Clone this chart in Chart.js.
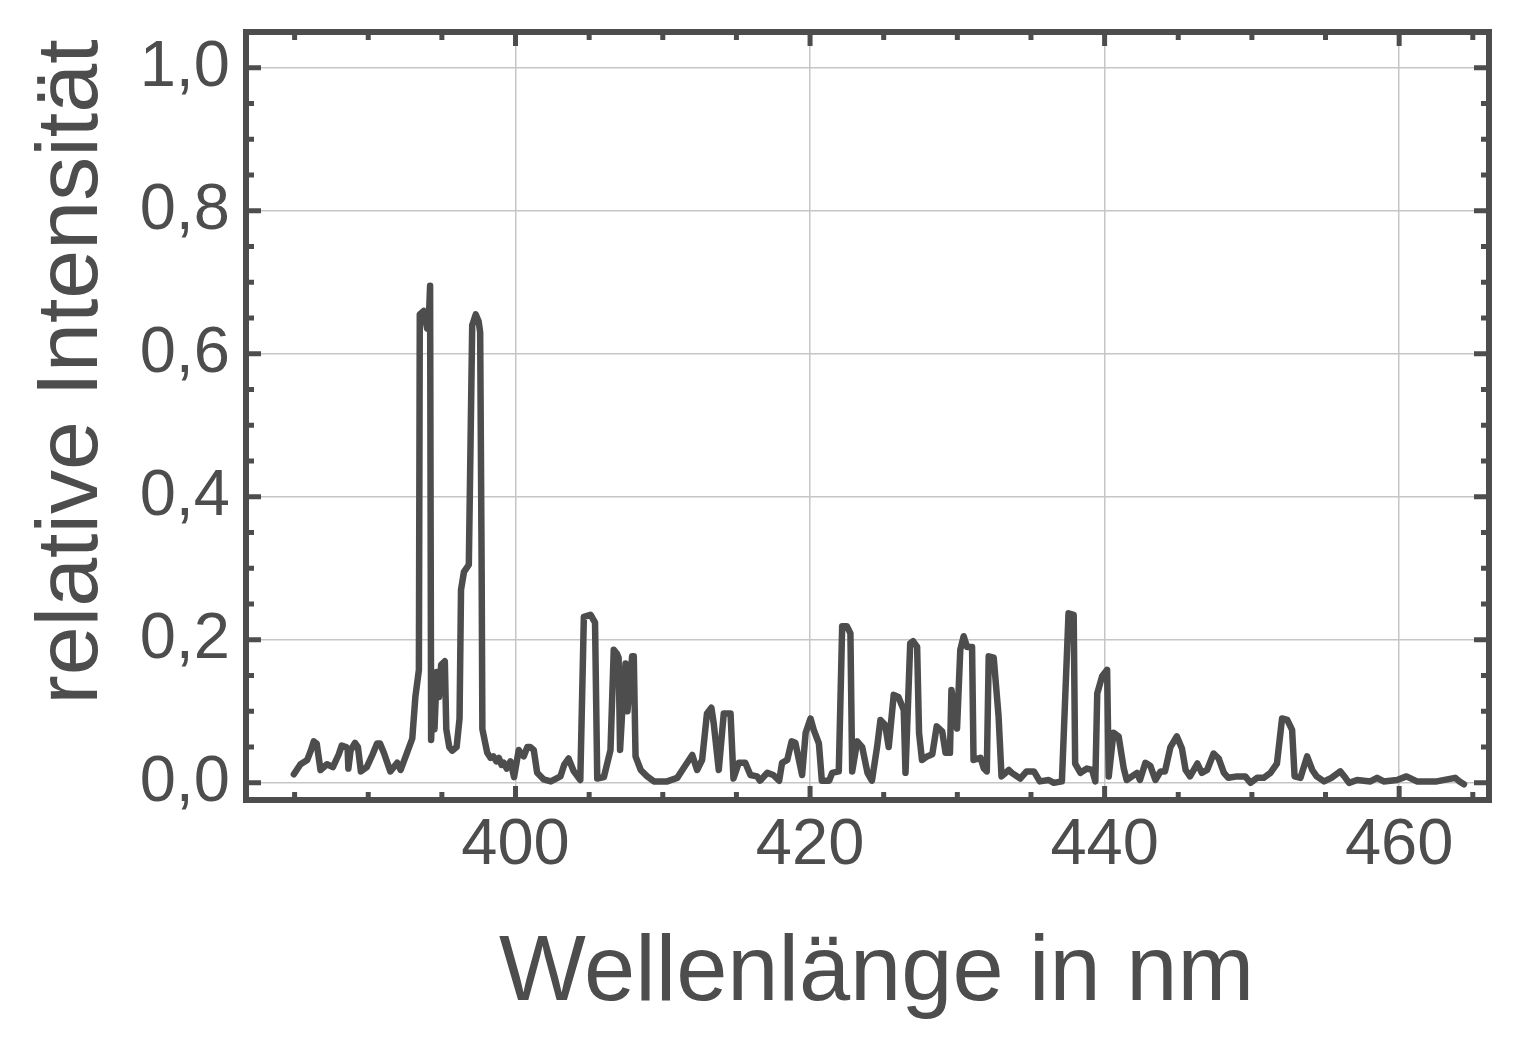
<!DOCTYPE html>
<html lang="de">
<head>
<meta charset="utf-8">
<title>Spektrum</title>
<script src="https://cdn.jsdelivr.net/npm/chart.js@4.4.1/dist/chart.umd.min.js"></script>
<style>
  html, body { margin: 0; padding: 0; background: #ffffff; }
  #wrap { width: 1517px; height: 1037px; position: relative; }
</style>
</head>
<body>
<div id="wrap"><canvas id="spectrum-chart"></canvas></div>
<script>
// --- data ---
const wavelength = [
  384.95, 385.4, 385.86, 386.1, 386.3, 386.5, 386.76, 387.2, 387.6, 388.0,
  388.2, 388.5, 388.6, 388.65, 388.8, 389.1, 389.3, 389.5, 389.9, 390.3,
  390.6, 390.8, 391.06, 391.5, 391.97, 392.2, 392.6, 392.99, 393.2, 393.44,
  393.5, 393.77, 394.0, 394.1, 394.2, 394.27, 394.4, 394.5, 394.65, 394.8,
  394.95, 395.2, 395.3, 395.5, 395.7, 396.0, 396.2, 396.3, 396.5, 396.83,
  396.95, 397.06, 397.3, 397.5, 397.6, 397.7, 397.75, 398.08, 398.3, 398.5,
  398.7, 398.87, 399.05, 399.2, 399.4, 399.66, 399.9, 400.22, 400.4, 400.56,
  400.8, 401.0, 401.24, 401.47, 401.9, 402.4, 403.05, 403.3, 403.6, 403.96,
  404.4, 404.64, 405.1, 405.4, 405.55, 406.0, 406.45, 406.67, 406.9, 407.0,
  407.1, 407.3, 407.47, 407.6, 407.92, 408.03, 408.15, 408.5, 408.94, 409.4,
  410.3, 410.98, 411.43, 412.0, 412.33, 412.67, 413.0, 413.3, 413.46, 413.8,
  414.14, 414.6, 414.8, 415.16, 415.6, 415.95, 416.4, 416.6, 417.1, 417.5,
  417.9, 418.1, 418.45, 418.75, 419.0, 419.46, 419.7, 420.03, 420.25, 420.6,
  420.8, 421.3, 421.5, 421.95, 422.18, 422.5, 422.74, 422.86, 423.2, 423.54,
  423.9, 424.2, 424.55, 424.78, 425.1, 425.34, 425.68, 426.0, 426.36, 426.48,
  426.8, 427.0, 427.27, 427.4, 427.6, 427.95, 428.3, 428.6, 428.97, 429.2,
  429.5, 429.6, 429.98, 430.2, 430.43, 430.66, 431.0, 431.1, 431.57, 431.8,
  432.0, 432.13, 432.47, 432.8, 433.0, 433.5, 433.7, 434.27, 434.7, 435.2,
  435.6, 436.2, 436.55, 437.1, 437.55, 437.9, 438.0, 438.36, 438.8, 439.15,
  439.37, 439.5, 439.83, 440.17, 440.28, 440.6, 440.95, 441.3, 441.5, 442.2,
  442.4, 442.77, 443.1, 443.45, 443.8, 444.1, 444.47, 444.9, 445.25, 445.5,
  445.8, 446.3, 446.6, 446.96, 447.4, 447.75, 448.1, 448.4, 449.0, 449.55,
  449.9, 450.35, 450.8, 451.26, 451.7, 452.05, 452.4, 452.73, 452.9, 453.3,
  453.75, 454.1, 454.4, 454.9, 455.4, 456.0, 456.35, 456.6, 457.15, 458.05,
  458.5, 458.95, 459.86, 460.5, 461.2, 462.55, 463.8, 464.1, 464.4
];
const intensity = [
  0.012, 0.026, 0.032, 0.045, 0.058, 0.055, 0.018, 0.026, 0.022, 0.040,
  0.052, 0.050, 0.048, 0.020, 0.045, 0.056, 0.050, 0.016, 0.022, 0.040,
  0.055, 0.055, 0.042, 0.016, 0.028, 0.018, 0.040, 0.062, 0.120, 0.158,
  0.655, 0.660, 0.635, 0.640, 0.695, 0.060, 0.140, 0.075, 0.155, 0.120,
  0.165, 0.170, 0.075, 0.050, 0.045, 0.050, 0.090, 0.270, 0.295, 0.305,
  0.480, 0.640, 0.655, 0.645, 0.630, 0.300, 0.075, 0.042, 0.035, 0.037,
  0.030, 0.035, 0.025, 0.028, 0.020, 0.030, 0.008, 0.046, 0.040, 0.037,
  0.050, 0.050, 0.046, 0.014, 0.005, 0.002, 0.009, 0.025, 0.034, 0.016,
  0.004, 0.232, 0.235, 0.224, 0.006, 0.008, 0.046, 0.186, 0.180, 0.175,
  0.046, 0.120, 0.167, 0.100, 0.177, 0.177, 0.037, 0.018, 0.009, 0.002,
  0.002, 0.007, 0.021, 0.039, 0.018, 0.032, 0.097, 0.105, 0.083, 0.018,
  0.097, 0.097, 0.006, 0.028, 0.028, 0.011, 0.009, 0.003, 0.014, 0.011,
  0.003, 0.028, 0.032, 0.058, 0.056, 0.011, 0.070, 0.090, 0.074, 0.055,
  0.003, 0.003, 0.014, 0.016, 0.219, 0.219, 0.209, 0.016, 0.058, 0.050,
  0.014, 0.003, 0.050, 0.088, 0.081, 0.050, 0.123, 0.120, 0.102, 0.014,
  0.195, 0.198, 0.190, 0.070, 0.032, 0.037, 0.040, 0.079, 0.072, 0.042,
  0.042, 0.130, 0.076, 0.186, 0.205, 0.190, 0.190, 0.032, 0.035, 0.020,
  0.016, 0.177, 0.175, 0.093, 0.009, 0.018, 0.014, 0.006, 0.016, 0.016,
  0.002, 0.004, 0.000, 0.002, 0.237, 0.235, 0.027, 0.014, 0.020, 0.018,
  0.002, 0.125, 0.149, 0.158, 0.009, 0.070, 0.065, 0.020, 0.004, 0.014,
  0.004, 0.028, 0.024, 0.004, 0.016, 0.016, 0.050, 0.065, 0.048, 0.018,
  0.009, 0.027, 0.014, 0.018, 0.041, 0.034, 0.014, 0.007, 0.009, 0.009,
  0.000, 0.007, 0.007, 0.014, 0.027, 0.090, 0.088, 0.074, 0.009, 0.007,
  0.037, 0.018, 0.009, 0.002, 0.007, 0.016, 0.007, 0.000, 0.004, 0.002,
  0.007, 0.002, 0.004, 0.009, 0.002, 0.002, 0.007, 0.002, -0.002
];

const xMajorTicks = [400, 420, 440, 460];
const xMinorTicks = [385, 390, 395, 405, 410, 415, 425, 430, 435, 445, 450, 455, 465];
const yMajorTicks = [0.0, 0.2, 0.4, 0.6, 0.8, 1.0];
const yMinorTicks = [0.05, 0.1, 0.15, 0.25, 0.3, 0.35, 0.45, 0.5, 0.55, 0.65, 0.7, 0.75, 0.85, 0.9, 0.95];

const xTitle = 'Wellenlänge in nm';
const yTitle = 'relative Intensität';

const ink = '#4d4d4d';
const fontFamily = '"Liberation Sans", Arial, sans-serif';

// frame, inward tick marks and the two axis titles
const framePlugin = {
    id: 'frame',
    afterDatasetsDraw(chart) {
        const ctx = chart.ctx;
        const a = chart.chartArea;
        const xs = chart.scales.x;
        const ys = chart.scales.y;
        ctx.save();
        ctx.strokeStyle = ink;
        ctx.lineCap = 'butt';

        ctx.lineWidth = 5;
        const tick = (list, len) => {
            list.forEach(v => {
                const px = xs.getPixelForValue(v);
                ctx.beginPath();
                ctx.moveTo(px, a.bottom); ctx.lineTo(px, a.bottom - len);
                ctx.moveTo(px, a.top); ctx.lineTo(px, a.top + len);
                ctx.stroke();
            });
        };
        const ytick = (list, len) => {
            list.forEach(v => {
                const py = ys.getPixelForValue(v);
                ctx.beginPath();
                ctx.moveTo(a.left, py); ctx.lineTo(a.left + len, py);
                ctx.moveTo(a.right, py); ctx.lineTo(a.right - len, py);
                ctx.stroke();
            });
        };
        tick(xMajorTicks, 14);
        tick(xMinorTicks, 8);
        ytick(yMajorTicks, 15);
        ytick(yMinorTicks, 8);

        ctx.lineWidth = 6;
        ctx.strokeRect(a.left, a.top, a.right - a.left, a.bottom - a.top);

        // axis titles
        ctx.fillStyle = ink;
        ctx.textAlign = 'center';
        ctx.textBaseline = 'alphabetic';
        ctx.font = '92px ' + fontFamily;
        ctx.fillText(xTitle, (a.left + a.right) / 2 + 9, 1000);

        ctx.translate(97, 372);
        ctx.rotate(-Math.PI / 2);
        ctx.font = '88px ' + fontFamily;
        ctx.fillText(yTitle, 0, 0);
        ctx.restore();
    }
};

const points = wavelength.map((w, i) => ({ x: w, y: intensity[i] }));

const ctx = document.getElementById('spectrum-chart').getContext('2d');
const spectrumChart = new Chart(ctx, {
    type: 'line',
    data: {
        datasets: [{
            data: points,
            borderColor: ink,
            borderWidth: 6.5,
            borderJoinStyle: 'round',
            borderCapStyle: 'round',
            pointRadius: 0,
            tension: 0,
            fill: false
        }]
    },
    options: {
        responsive: true,
        maintainAspectRatio: false,
        animation: false,
        devicePixelRatio: 1,
        layout: { padding: { top: 32, right: 28, left: 0, bottom: 0 } },
        plugins: {
            legend: { display: false },
            tooltip: { enabled: false }
        },
        scales: {
            x: {
                type: 'linear',
                min: 381.7,
                max: 466.1,
                afterBuildTicks: scale => { scale.ticks = xMajorTicks.map(v => ({ value: v })); },
                afterFit: scale => {
                    scale.height = 237;
                    scale.paddingLeft = 0;
                    scale.paddingRight = 0;
                },
                grid: { color: '#c6c6c6', lineWidth: 1.5, drawTicks: false },
                border: { display: false },
                ticks: {
                    color: ink,
                    padding: 14,
                    maxRotation: 0,
                    autoSkip: false,
                    font: { family: fontFamily, size: 65, lineHeight: 1 }
                }
            },
            y: {
                min: -0.024,
                max: 1.05,
                afterBuildTicks: scale => { scale.ticks = yMajorTicks.map(v => ({ value: v })); },
                afterFit: scale => {
                    scale.width = 246;
                    scale.paddingTop = 0;
                    scale.paddingBottom = 0;
                },
                grid: { color: '#c6c6c6', lineWidth: 1.5, drawTicks: false },
                border: { display: false },
                ticks: {
                    color: ink,
                    padding: 16,
                    autoSkip: false,
                    font: { family: fontFamily, size: 65, lineHeight: 1 },
                    callback: v => v.toFixed(1).replace('.', ',')
                }
            }
        }
    },
    plugins: [framePlugin]
});
</script>
</body>
</html>
